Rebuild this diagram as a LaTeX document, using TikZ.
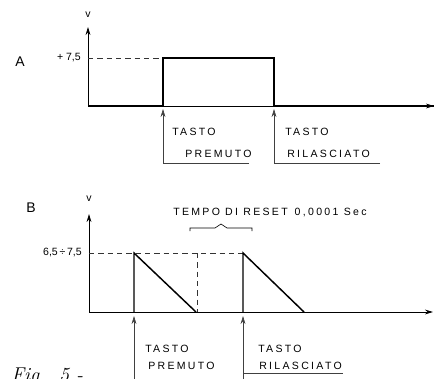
\documentclass[tikz,border=0pt]{standalone}
\usepackage{fontspec}
\newfontfamily\tagfont[LetterSpace=22]{Liberation Sans}
\newfontfamily\plainfont{Liberation Sans}
\usetikzlibrary{
  arrows.meta,
  positioning,
  calc
}
\tikzset{
  sigline/.style={
    line width=1.1pt,
    draw=black
  },
  axisline/.style={
    -{Stealth[length=6pt,width=3.6pt]},
    line width=0.7pt,
    draw=black
  },
  levelline/.style={
    dash pattern=on 4pt off 3pt,
    line width=0.5pt,
    draw=black!80
  },
  keyline/.style={
    -{Stealth[length=6pt,width=3.6pt]},
    line width=0.5pt,
    draw=black!75
  },
  tagtext/.style={
    font=\tagfont\fontsize{7.9}{9}\selectfont,
    inner sep=0pt,
    anchor=base west
  },
  valtext/.style={
    font=\plainfont\fontsize{7.9}{9}\selectfont,
    inner sep=0pt
  },
  paneltext/.style={
    font=\plainfont\fontsize{10.5}{12}\selectfont,
    inner sep=0pt
  }
}

\begin{document}
\begin{tikzpicture}[x=0.75pt, y=-0.75pt]
  \useasboundingbox (0,0) rectangle (445,378);
  \clip (0,0) rectangle (445,378);

  % panel A
  \coordinate (oA) at (88,106);
  \coordinate (topA) at (88,27);
  \coordinate (endA) at (434,106);
  \coordinate (riseA) at (163,106);
  \coordinate (riseAt) at (163,58);
  \coordinate (fallAt) at (274,58);
  \coordinate (fallA) at (274,106);
  \coordinate (levA) at (88,58);

  \node[paneltext] (labA) at (20,62) {A};
  \node[valtext, anchor=base] (vA) at (88,18) {v};
  \node[valtext, anchor=east] (lvA) at (81,58) {+ 7,5};

  \draw[axisline] (oA) -- (topA);
  \draw[axisline] (oA) -- (endA);
  \draw[levelline] (levA) -- (riseAt);
  \draw[sigline] (oA) -- (riseA) -- (riseAt) -- (fallAt) -- (fallA) -- (endA);

  \node[tagtext] (keyA1) at (172,135) {TASTO};
  \node[tagtext] (keyA2) at (185,157) {PREMUTO};
  \node[tagtext] (relA1) at (285,135) {TASTO};
  \node[tagtext] (relA2) at (287,157) {RILASCIATO};

  \coordinate (ulA1) at (163,163);
  \coordinate (ulA1e) at (249,163);
  \coordinate (ulA2) at (274,163);
  \coordinate (ulA2e) at (380,163);
  \coordinate (tipA1) at (163,109);
  \coordinate (tipA2) at (274,109);
  \draw[keyline] (ulA1e) -- (ulA1) -- (tipA1);
  \draw[keyline] (ulA2e) -- (ulA2) -- (tipA2);

  % panel B
  \coordinate (oB) at (89,312);
  \coordinate (topB) at (89,214);
  \coordinate (endB) at (433,312);
  \coordinate (levB) at (89,253);
  \coordinate (p1) at (134,312);
  \coordinate (p1t) at (134,253);
  \coordinate (p1e) at (196,312);
  \coordinate (rst) at (197,253);
  \coordinate (rstb) at (197,312);
  \coordinate (p2) at (243,312);
  \coordinate (p2t) at (243,253);
  \coordinate (p2e) at (304,312);

  \node[paneltext] (labB) at (31,208) {B};
  \node[valtext, anchor=base] (vB) at (89,201) {v};
  \node[valtext, anchor=east] (lvB) at (82,252) {6,5\,÷\,7,5};

  \draw[axisline] (oB) -- (topB);
  \draw[axisline] (oB) -- (endB);
  \draw[levelline] (levB) -- (p2t);
  \draw[levelline] (rst) -- (rstb);
  \draw[sigline] (p1) -- (p1t) -- (p1e);
  \draw[sigline] (p2) -- (p2t) -- (p2e);

  % brace
  \node[tagtext] (reset) at (173,215) {TEMPO DI RESET\, 0,0001 Sec};
  \coordinate (brL) at (190,231);
  \coordinate (brR) at (252,231);
  \coordinate (brT) at (221,224);
  \draw[line width=0.5pt] (brL) -- ++(0,-3) -- ($(brT)+(-6,4)$) -- (brT)
    -- ($(brT)+(6,4)$) -- ($(brR)+(0,-3)$) -- (brR);

  \node[tagtext] (keyB1) at (145,352) {TASTO};
  \node[tagtext] (keyB2) at (148,369) {PREMUTO};
  \node[tagtext] (relB1) at (258,352) {TASTO};
  \node[tagtext] (relB2) at (259,369) {RILASCIATO};

  \coordinate (lowB1) at (134,385);
  \coordinate (ulB2) at (243,373);
  \coordinate (ulB2e) at (343,373);
  \coordinate (lowB2) at (243,385);
  \coordinate (tipB1) at (134,316);
  \coordinate (tipB2) at (243,316);
  \draw[keyline] (lowB1) -- (tipB1);
  \draw[keyline] (lowB2) -- (tipB2);
  \draw[line width=0.5pt, draw=black!75] (ulB2) -- (ulB2e);

  \node[font=\fontsize{15}{17}\selectfont\itshape, inner sep=0pt, anchor=base west] (fig) at (11,381) {Fig.\ \ 5 -};
\end{tikzpicture}
\end{document}
